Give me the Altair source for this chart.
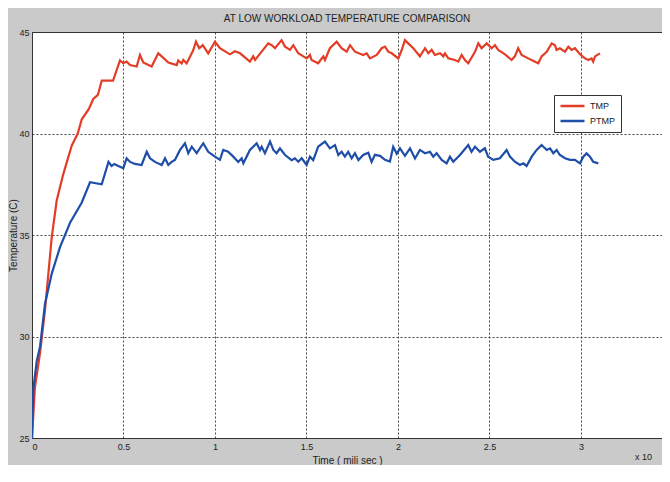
import altair as alt
import pandas as pd

FONT = "Liberation Sans Narrow, Arial Narrow, Liberation Sans, Arial, sans-serif"

series_names = ["TMP", "PTMP"]
series_colors = ["#e43d27", "#1f4ea8"]
x_ticks = [0, 0.5, 1, 1.5, 2, 2.5, 3]
y_ticks = [25, 30, 35, 40, 45]

tmp_time = [0.0, 0.016, 0.044, 0.071, 0.108, 0.135, 0.171, 0.217, 0.25, 0.272, 0.31, 0.335, 0.36,
            0.381, 0.443, 0.481, 0.499, 0.517, 0.536, 0.572, 0.590, 0.608, 0.654, 0.690, 0.709,
            0.745, 0.791, 0.799, 0.818, 0.827, 0.845, 0.881, 0.896, 0.914, 0.933, 0.963, 1.0,
            1.027, 1.082, 1.109, 1.137, 1.191, 1.209, 1.219, 1.255, 1.291, 1.310, 1.328, 1.364,
            1.383, 1.41, 1.428, 1.455, 1.483, 1.501, 1.519, 1.528, 1.564, 1.592, 1.601, 1.628,
            1.665, 1.692, 1.72, 1.738, 1.765, 1.81, 1.829, 1.847, 1.884, 1.911, 1.929, 1.947,
            1.966, 2.002, 2.02, 2.038, 2.056, 2.084, 2.12, 2.148, 2.166, 2.184, 2.202, 2.23,
            2.248, 2.257, 2.275, 2.311, 2.33, 2.348, 2.366, 2.384, 2.421, 2.439, 2.457, 2.485,
            2.512, 2.53, 2.548, 2.585, 2.621, 2.639, 2.657, 2.676, 2.712, 2.749, 2.767, 2.785,
            2.813, 2.84, 2.858, 2.867, 2.885, 2.913, 2.931, 2.949, 2.967, 2.995, 3.022, 3.041,
            3.058, 3.067, 3.077, 3.104]
tmp_temp = [25.0, 27.5, 29.2, 31.3, 34.9, 36.7, 38.0, 39.4, 40.0, 40.7, 41.2, 41.7, 41.9,
            42.6, 42.6, 43.6, 43.46, 43.54, 43.37, 43.3, 43.87, 43.5, 43.3, 43.95, 43.8,
            43.5, 43.37, 43.6, 43.45, 43.62, 43.45, 44.1, 44.52, 44.2, 44.35, 43.95, 44.52,
            44.2, 43.9, 44.05, 43.95, 43.54, 43.8, 43.62, 44.03, 44.44, 44.35, 44.2, 44.6,
            44.28, 44.12, 44.35, 43.95, 43.8, 43.7, 43.87, 43.62, 43.46, 43.8, 43.62, 44.2,
            44.52, 44.2, 44.03, 44.35, 44.03, 43.87, 43.95, 43.7, 43.87, 44.2, 44.28, 44.03,
            43.95, 43.7, 44.1, 44.6, 44.44, 44.2, 43.8, 44.2, 43.95, 44.12, 43.87, 43.95,
            43.8, 43.95, 43.7, 43.62, 43.54, 43.87, 43.62, 43.46, 44.03, 44.44, 44.2, 44.44,
            44.2, 44.35, 44.12, 43.9, 43.62, 43.8, 44.2, 43.87, 43.7, 43.54, 43.46, 43.8,
            44.03, 44.44, 44.35, 44.12, 44.2, 44.03, 44.28, 44.12, 44.2, 43.9, 43.7, 43.62,
            43.7, 43.54, 43.8, 43.95]

ptmp_time = [0.0, 0.007, 0.026, 0.044, 0.071, 0.108, 0.153, 0.208, 0.272, 0.317, 0.381, 0.418,
             0.435, 0.45, 0.472, 0.499, 0.517, 0.536, 0.563, 0.599, 0.627, 0.645, 0.672, 0.709,
             0.727, 0.745, 0.763, 0.781, 0.809, 0.836, 0.854, 0.873, 0.9, 0.936, 0.963, 1.0,
             1.027, 1.045, 1.072, 1.1, 1.127, 1.146, 1.155, 1.191, 1.228, 1.246, 1.255, 1.273,
             1.301, 1.319, 1.337, 1.355, 1.383, 1.419, 1.437, 1.455, 1.474, 1.501, 1.519, 1.537,
             1.564, 1.601, 1.628, 1.656, 1.674, 1.692, 1.71, 1.728, 1.747, 1.765, 1.784, 1.81,
             1.838, 1.856, 1.874, 1.902, 1.929, 1.956, 1.974, 1.993, 2.011, 2.038, 2.066, 2.093,
             2.12, 2.148, 2.175, 2.193, 2.211, 2.239, 2.266, 2.284, 2.302, 2.339, 2.384, 2.402,
             2.421, 2.448, 2.475, 2.493, 2.521, 2.557, 2.594, 2.612, 2.639, 2.667, 2.685, 2.703,
             2.731, 2.758, 2.785, 2.813, 2.831, 2.849, 2.867, 2.885, 2.913, 2.94, 2.967, 2.995,
             3.013, 3.031, 3.049, 3.067, 3.095]
ptmp_temp = [25.0, 27.4, 28.8, 29.5, 31.6, 33.1, 34.4, 35.6, 36.6, 37.6, 37.5, 38.6,
             38.4, 38.5, 38.4, 38.29, 38.78, 38.6, 38.5, 38.45, 39.1, 38.78, 38.6, 38.45,
             38.78, 38.45, 38.6, 38.7, 39.19, 39.52, 39.03, 39.35, 39.03, 39.52, 39.1, 38.86,
             38.7, 39.19, 39.1, 38.86, 38.6, 38.78, 38.53, 39.19, 39.52, 39.19, 39.35, 39.03,
             39.6, 39.19, 39.03, 39.27, 38.94, 38.69, 38.78, 38.61, 38.78, 38.45, 38.86, 38.69,
             39.35, 39.6, 39.27, 39.43, 38.94, 39.1, 38.86, 39.1, 38.78, 39.03, 38.69, 38.94,
             39.05, 38.6, 38.95, 38.9, 38.7, 38.62, 39.35, 39.0, 39.27, 38.9, 39.27, 38.77,
             39.19, 39.03, 39.1, 38.86, 39.03, 38.7, 38.53, 38.86, 38.61, 38.94, 39.43, 39.1,
             39.35, 39.1, 39.27, 38.86, 38.7, 38.78, 39.19, 38.86, 38.61, 38.45, 38.53, 38.4,
             38.86, 39.19, 39.43, 39.19, 39.27, 39.03, 39.19, 38.94, 38.78, 38.7, 38.7, 38.53,
             38.86, 39.02, 38.86, 38.61, 38.53]

rows = []
for name, ts, vs in [("TMP", tmp_time, tmp_temp), ("PTMP", ptmp_time, ptmp_temp)]:
    for i, (t, v) in enumerate(zip(ts, vs)):
        rows.append({"time": t, "temp": v, "series": name, "idx": i})
df = pd.DataFrame(rows)

lines = alt.Chart(df).mark_line(strokeWidth=2.2, clip=True).encode(
    x=alt.X("time:Q",
            scale=alt.Scale(domain=[0, 3.443], nice=False, zero=False),
            axis=alt.Axis(values=x_ticks, format=".1~f", title="Time ( mili sec )",
                          domain=False, ticks=False, labelPadding=4,
                          titleY=25, titleBaseline="alphabetic")),
    y=alt.Y("temp:Q",
            scale=alt.Scale(domain=[25, 45], nice=False, zero=False),
            axis=alt.Axis(values=y_ticks, title="Temperature (C)",
                          domain=False, ticks=False, labelPadding=3,
                          titleX=-16, titleY=203, titleAngle=270,
                          titleAlign="center", titleBaseline="alphabetic")),
    color=alt.Color("series:N",
                    scale=alt.Scale(domain=series_names, range=series_colors),
                    legend=alt.Legend(title=None, orient="none", legendX=522, legendY=63,
                                      symbolType="stroke", symbolSize=576,
                                      symbolStrokeWidth=2.5, labelFontSize=9,
                                      labelFont=FONT, labelColor="#222", labelOffset=4,
                                      fillColor="white", strokeColor="#333",
                                      padding=5, rowPadding=3, clipHeight=12)),
    order="idx:Q",
)

exp_df = pd.DataFrame({"t": ["x 10"]})
exp_text = alt.Chart(exp_df).mark_text(
    align="left", baseline="alphabetic", fontSize=9, font=FONT, color="#222"
).encode(x=alt.value(603), y=alt.value(428), text="t:N")

chart = alt.layer(lines, exp_text).properties(
    width=630,
    height=406,
    title=alt.Title("AT LOW WORKLOAD TEMPERATURE COMPARISON", fontSize=10, font=FONT,
                    fontWeight="normal", color="#222", offset=4, anchor="middle"),
    padding={"left": 24, "top": 24, "right": 0, "bottom": 27},
    autosize=alt.AutoSizeParams(type="none"),
    background="#cacaca",
).configure_view(
    stroke="#333", strokeWidth=1, fill="white"
).configure_axis(
    grid=True, gridColor="#333", gridDash=[2, 2], gridOpacity=0.9, gridWidth=1,
    labelFont=FONT, labelFontSize=9, labelColor="#222",
    titleFont=FONT, titleFontSize=10, titleFontWeight="normal", titleColor="#222",
)

chart.save("out.html", embed_options={"renderer": "svg", "actions": False})
